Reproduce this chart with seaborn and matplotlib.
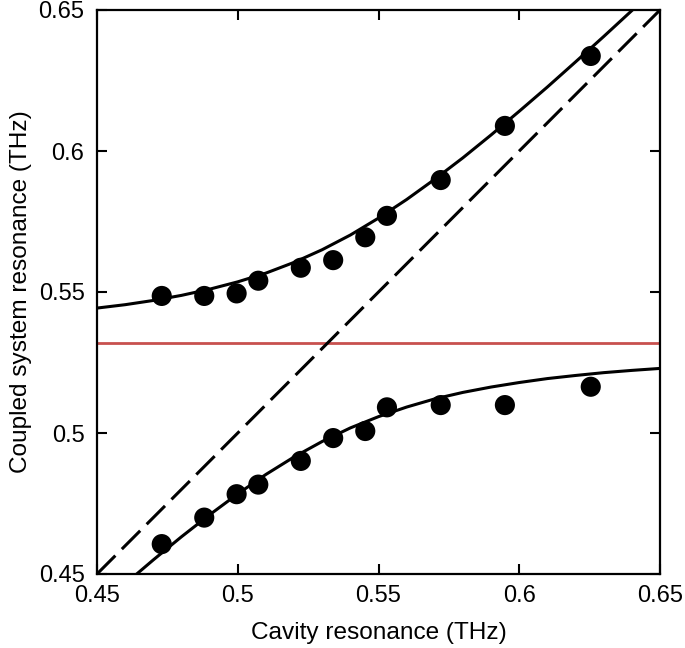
import matplotlib
matplotlib.use("Agg")
import matplotlib.pyplot as plt
import seaborn as sns
import pandas as pd

# measured resonances (THz)
upper_x = [0.4730, 0.4881, 0.4996, 0.5073, 0.5224, 0.5339, 0.5453, 0.5530, 0.5721, 0.5949, 0.6254]
upper_y = [0.5486, 0.5486, 0.5495, 0.5540, 0.5586, 0.5613, 0.5694, 0.5770, 0.5897, 0.6089, 0.6337]
lower_x = [0.4730, 0.4881, 0.4996, 0.5073, 0.5224, 0.5339, 0.5453, 0.5530, 0.5721, 0.5949, 0.6254]
lower_y = [0.4606, 0.4700, 0.4783, 0.4817, 0.4901, 0.4982, 0.5007, 0.5091, 0.5099, 0.5099, 0.5164]

# fitted branches
fit_x = [0.45, 0.46, 0.47, 0.48, 0.49, 0.50, 0.51, 0.52, 0.53, 0.54, 0.55,
         0.56, 0.57, 0.58, 0.59, 0.60, 0.61, 0.62, 0.63, 0.64, 0.65]
fit_upper = [0.5443, 0.5455, 0.5470, 0.5488, 0.5510, 0.5536, 0.5567, 0.5605, 0.5650, 0.5702, 0.5762,
             0.5828, 0.5900, 0.5976, 0.6057, 0.6141, 0.6227, 0.6316, 0.6406, 0.6498, 0.6591]
fit_lower = [0.4377, 0.4465, 0.4550, 0.4632, 0.4710, 0.4784, 0.4853, 0.4915, 0.4970, 0.5018, 0.5058,
             0.5092, 0.5121, 0.5144, 0.5163, 0.5179, 0.5193, 0.5204, 0.5214, 0.5222, 0.5229]

# uncoupled cavity (y = x) and material resonance
diag_x = [0.45, 0.65]
diag_y = [0.45, 0.65]
material_res = 0.532

ticks = [0.45, 0.5, 0.55, 0.6, 0.65]
tick_labels = ["0.45", "0.5", "0.55", "0.6", "0.65"]

sns.set_theme(style="ticks")
plt.rcParams['font.family'] = ['Liberation Sans', 'DejaVu Sans']
plt.rcParams['axes.labelcolor'] = 'black'
plt.rcParams['text.color'] = 'black'

fig = plt.figure(figsize=(6.85, 6.48), dpi=100)
ax = fig.add_axes([97 / 685, 1 - 574 / 648, 563 / 685, 564 / 648])

pts = pd.DataFrame({
    'x': upper_x + lower_x,
    'y': upper_y + lower_y,
})
fit = pd.DataFrame({'x': fit_x, 'upper': fit_upper, 'lower': fit_lower})

ax.axhline(material_res, color='#c8504e', lw=2.0, zorder=1)
sns.lineplot(x=diag_x, y=diag_y, ax=ax, color='black', lw=2.2, dashes=False, zorder=2)
ax.lines[-1].set_dashes((8.5, 3.0))
sns.lineplot(data=fit, x='x', y='upper', ax=ax, color='black', lw=2.2, zorder=3)
sns.lineplot(data=fit, x='x', y='lower', ax=ax, color='black', lw=2.2, zorder=3)
sns.scatterplot(data=pts, x='x', y='y', ax=ax, color='black', s=210, edgecolor='none', zorder=4)

ax.set_xlim(0.45, 0.65)
ax.set_ylim(0.45, 0.65)
ax.set_xticks(ticks)
ax.set_xticklabels(tick_labels)
ax.set_yticks(ticks)
ax.set_yticklabels(tick_labels)
ax.tick_params(direction='in', length=7, width=1.5, labelsize=17, colors='black',
               top=True, right=True)
ax.tick_params(axis='x', pad=8)
ax.tick_params(axis='y', pad=9)
for s in ax.spines.values():
    s.set_visible(True)
    s.set_linewidth(1.6)
    s.set_color('black')

ax.set_xlabel('Cavity resonance (THz)', fontsize=17.6, labelpad=11)
ax.set_ylabel('Coupled system resonance (THz)', fontsize=17.6, labelpad=5)

fig.savefig('out.png', dpi=100)
